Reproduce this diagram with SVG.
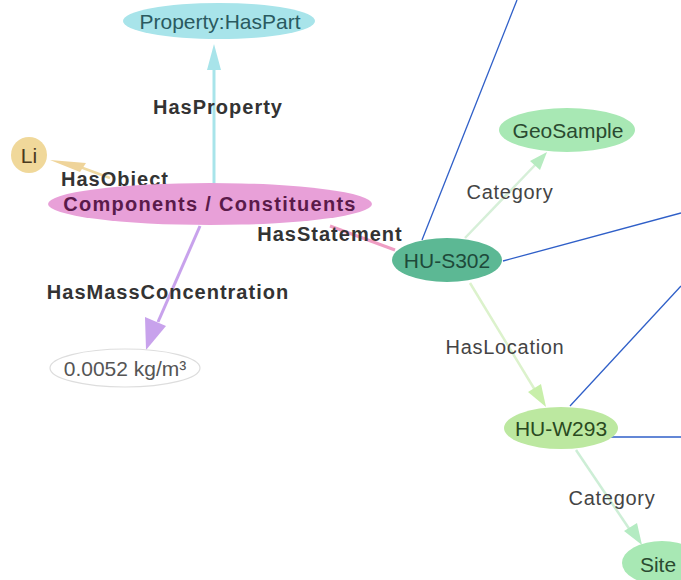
<svg xmlns="http://www.w3.org/2000/svg" width="681" height="580" viewBox="0 0 681 580">
<style>
.lbl{font-family:"Liberation Sans",Arial,sans-serif;font-size:20px;letter-spacing:1px;font-weight:bold;fill:#333;text-anchor:middle}
.lbn{font-family:"Liberation Sans",Arial,sans-serif;font-size:20px;letter-spacing:0.7px;fill:#444;text-anchor:middle}
.nt{font-family:"Liberation Sans",Arial,sans-serif;font-size:21px;text-anchor:middle;dominant-baseline:central}
.blue{stroke:#2f5fc8;stroke-width:1.3;fill:none}
</style>
<rect width="681" height="580" fill="#ffffff"/>
<g id="connectors">
  <line x1="214" y1="195" x2="214" y2="70" stroke="#a8e4ea" stroke-width="3"/>
  <polygon points="214,44 207,70 221,70" fill="#a8e4ea"/>
  <line x1="110" y1="178" x2="72" y2="164" stroke="#efd9a0" stroke-width="2.5"/>
  <polygon points="50,160 86,163 80,172" fill="#efd49a"/>
  <line x1="200" y1="226" x2="158" y2="322" stroke="#c8a2ec" stroke-width="3"/>
  <polygon points="146,350 145,317 166,326" fill="#c8a2ec"/>
  <line x1="330" y1="226" x2="395" y2="250" stroke="#ef9ec4" stroke-width="3"/>
  <line x1="465" y1="238" x2="537" y2="163" stroke="#d6efd8" stroke-width="2.5"/>
  <polygon points="547,152 530,161 540,170" fill="#b6ebc0"/>
  <line x1="470" y1="283" x2="535" y2="390" stroke="#dcf2cc" stroke-width="2.5"/>
  <polygon points="546,407 528,392 541,384" fill="#c8efaa"/>
  <line x1="576" y1="450" x2="630" y2="530" stroke="#cdeed6" stroke-width="2.5"/>
  <polygon points="642,545 624,531 637,523" fill="#b4ebc2"/>
  <line class="blue" x1="422" y1="240" x2="517" y2="0"/>
  <line class="blue" x1="503" y1="261" x2="681" y2="213"/>
  <line class="blue" x1="570" y1="406" x2="681" y2="286"/>
  <line class="blue" x1="603" y1="437" x2="681" y2="437"/>
  <text class="lbl" x="218" y="114">HasProperty</text>
  <text class="lbl" x="115" y="186">HasObject</text>
  <text class="lbl" x="330" y="241">HasStatement</text>
  <text class="lbl" x="168" y="299">HasMassConcentration</text>
  <text class="lbn" x="510" y="199">Category</text>
  <text class="lbn" x="505" y="354">HasLocation</text>
  <text class="lbn" x="612" y="505">Category</text>
</g>
<g id="node-property">
  <ellipse cx="219" cy="21" rx="96" ry="18" fill="#a8e4ea"/>
  <text class="nt" x="220" y="21" fill="#2a5a60">Property:HasPart</text>
</g>
<g id="node-li">
  <circle cx="29" cy="155" r="18" fill="#f0d89a"/>
  <text class="nt" x="29" y="155" fill="#4a3a20">Li</text>
</g>
<g id="node-components">
  <ellipse cx="210" cy="204" rx="162" ry="21" fill="#e8a0d8"/>
  <text class="nt" x="210" y="204" fill="#5a1a4a" style="font-weight:bold;font-size:20px;letter-spacing:1.3px">Components / Constituents</text>
</g>
<g id="node-value">
  <ellipse cx="125" cy="368" rx="75" ry="19" fill="#ffffff" stroke="#dddddd" stroke-width="1.2"/>
  <text class="nt" x="125" y="368" fill="#555">0.0052 kg/m³</text>
</g>
<g id="node-hus302">
  <ellipse cx="447" cy="260" rx="55" ry="22" fill="#5cb894"/>
  <text class="nt" x="447" y="260" fill="#1e4a3a">HU-S302</text>
</g>
<g id="node-geosample">
  <ellipse cx="567" cy="130" rx="68" ry="22" fill="#a8e8b4"/>
  <text class="nt" x="568" y="130" fill="#2a4a30">GeoSample</text>
</g>
<g id="node-huw293">
  <ellipse cx="561" cy="428" rx="57" ry="21" fill="#bce8a0"/>
  <text class="nt" x="561" y="428" fill="#2a4a20">HU-W293</text>
</g>
<g id="node-site">
  <ellipse cx="662" cy="563" rx="40" ry="22" fill="#a8e8b4"/>
  <text class="nt" x="658" y="564" fill="#2a4a30">Site</text>
</g>
</svg>
